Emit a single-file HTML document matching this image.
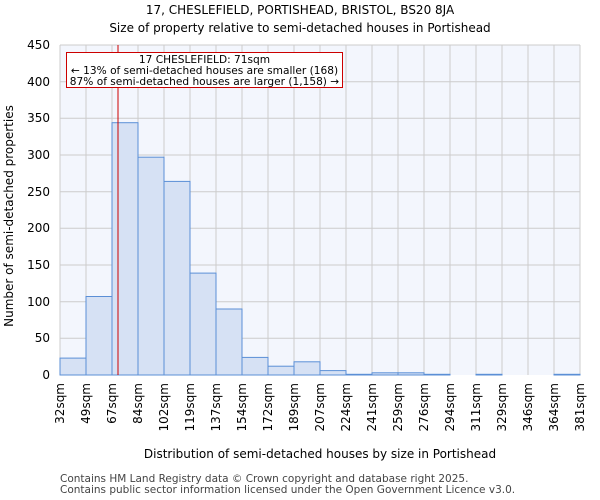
<!DOCTYPE html>
<html><head><style>body{margin:0;background:#fff}svg{display:block;font-family:"DejaVu Sans","Liberation Sans",sans-serif}</style></head><body>
<svg width="600" height="500" viewBox="0 0 600 500" xmlns="http://www.w3.org/2000/svg">
<text x="300" y="14" font-size="12" text-anchor="middle">17, CHESLEFIELD, PORTISHEAD, BRISTOL, BS20 8JA</text>
<text x="300" y="32" font-size="12" text-anchor="middle">Size of property relative to semi-detached houses in Portishead</text>
<rect x="60" y="45" width="520" height="330" fill="#f3f6fd"/>
<g stroke="#cccccc" stroke-width="1">
<line x1="60" x2="580" y1="45" y2="45"/><line x1="60" x2="580" y1="81.7" y2="81.7"/><line x1="60" x2="580" y1="118.3" y2="118.3"/><line x1="60" x2="580" y1="155" y2="155"/><line x1="60" x2="580" y1="191.7" y2="191.7"/><line x1="60" x2="580" y1="228.3" y2="228.3"/><line x1="60" x2="580" y1="265" y2="265"/><line x1="60" x2="580" y1="301.7" y2="301.7"/><line x1="60" x2="580" y1="338.3" y2="338.3"/>
<line x1="86" x2="86" y1="45" y2="375"/><line x1="112" x2="112" y1="45" y2="375"/><line x1="138" x2="138" y1="45" y2="375"/><line x1="164" x2="164" y1="45" y2="375"/><line x1="190" x2="190" y1="45" y2="375"/><line x1="216" x2="216" y1="45" y2="375"/><line x1="242" x2="242" y1="45" y2="375"/><line x1="268" x2="268" y1="45" y2="375"/><line x1="294" x2="294" y1="45" y2="375"/><line x1="320" x2="320" y1="45" y2="375"/><line x1="346" x2="346" y1="45" y2="375"/><line x1="372" x2="372" y1="45" y2="375"/><line x1="398" x2="398" y1="45" y2="375"/><line x1="424" x2="424" y1="45" y2="375"/><line x1="450" x2="450" y1="45" y2="375"/><line x1="476" x2="476" y1="45" y2="375"/><line x1="502" x2="502" y1="45" y2="375"/><line x1="528" x2="528" y1="45" y2="375"/><line x1="554" x2="554" y1="45" y2="375"/><line x1="60" x2="60" y1="45" y2="375"/><line x1="580" x2="580" y1="45" y2="375"/>
</g>
<g fill="#d6e1f4" stroke="#5b8fd6" stroke-width="1">
<rect x="60" y="358.1" width="26" height="16.9"/>
<rect x="86" y="296.5" width="26" height="78.5"/>
<rect x="112" y="122.7" width="26" height="252.3"/>
<rect x="138" y="157.2" width="26" height="217.8"/>
<rect x="164" y="181.4" width="26" height="193.6"/>
<rect x="190" y="273.1" width="26" height="101.9"/>
<rect x="216" y="309" width="26" height="66"/>
<rect x="242" y="357.4" width="26" height="17.6"/>
<rect x="268" y="366.2" width="26" height="8.8"/>
<rect x="294" y="361.8" width="26" height="13.2"/>
<rect x="320" y="370.6" width="26" height="4.4"/>
<rect x="346" y="374.3" width="26" height="0.7"/>
<rect x="372" y="372.8" width="26" height="2.2"/>
<rect x="398" y="372.8" width="26" height="2.2"/>
<rect x="424" y="374.3" width="26" height="0.7"/>
<rect x="476" y="374.3" width="26" height="0.7"/>
<rect x="554" y="374.3" width="26" height="0.7"/>
</g>
<line x1="118" x2="118" y1="45" y2="375" stroke="#cc0000" stroke-width="1"/>
<rect x="66.5" y="52.5" width="276" height="35" fill="#fff" stroke="#cc0000" stroke-width="1"/>
<g font-size="10.6" text-anchor="middle"><text x="204.5" y="63">17 CHESLEFIELD: 71sqm</text><text x="204.5" y="74">← 13% of semi-detached houses are smaller (168)</text><text x="204.5" y="85">87% of semi-detached houses are larger (1,158) →</text></g>
<g font-size="12" text-anchor="end">
<text x="50" y="49">450</text><text x="50" y="86">400</text><text x="50" y="122">350</text><text x="50" y="159">300</text><text x="50" y="196">250</text><text x="50" y="232">200</text><text x="50" y="269">150</text><text x="50" y="306">100</text><text x="50" y="342">50</text><text x="50" y="379">0</text>
</g>
<g font-size="12" text-anchor="end">
<text transform="translate(64,383) rotate(-90)">32sqm</text><text transform="translate(90,383) rotate(-90)">49sqm</text><text transform="translate(116,383) rotate(-90)">67sqm</text><text transform="translate(142,383) rotate(-90)">84sqm</text><text transform="translate(168,383) rotate(-90)">102sqm</text><text transform="translate(194,383) rotate(-90)">119sqm</text><text transform="translate(220,383) rotate(-90)">137sqm</text><text transform="translate(246,383) rotate(-90)">154sqm</text><text transform="translate(272,383) rotate(-90)">172sqm</text><text transform="translate(298,383) rotate(-90)">189sqm</text><text transform="translate(324,383) rotate(-90)">207sqm</text><text transform="translate(350,383) rotate(-90)">224sqm</text><text transform="translate(376,383) rotate(-90)">241sqm</text><text transform="translate(402,383) rotate(-90)">259sqm</text><text transform="translate(428,383) rotate(-90)">276sqm</text><text transform="translate(454,383) rotate(-90)">294sqm</text><text transform="translate(480,383) rotate(-90)">311sqm</text><text transform="translate(506,383) rotate(-90)">329sqm</text><text transform="translate(532,383) rotate(-90)">346sqm</text><text transform="translate(558,383) rotate(-90)">364sqm</text><text transform="translate(584,383) rotate(-90)">381sqm</text>
</g>
<text x="320" y="458" font-size="12" text-anchor="middle">Distribution of semi-detached houses by size in Portishead</text>
<text transform="translate(13,216) rotate(-90)" font-size="12" text-anchor="middle">Number of semi-detached properties</text>
<text x="60" y="482" font-size="10.5" fill="#444">Contains HM Land Registry data © Crown copyright and database right 2025.</text>
<text x="60" y="493" font-size="10.5" fill="#444">Contains public sector information licensed under the Open Government Licence v3.0.</text>
</svg>
</body></html>
